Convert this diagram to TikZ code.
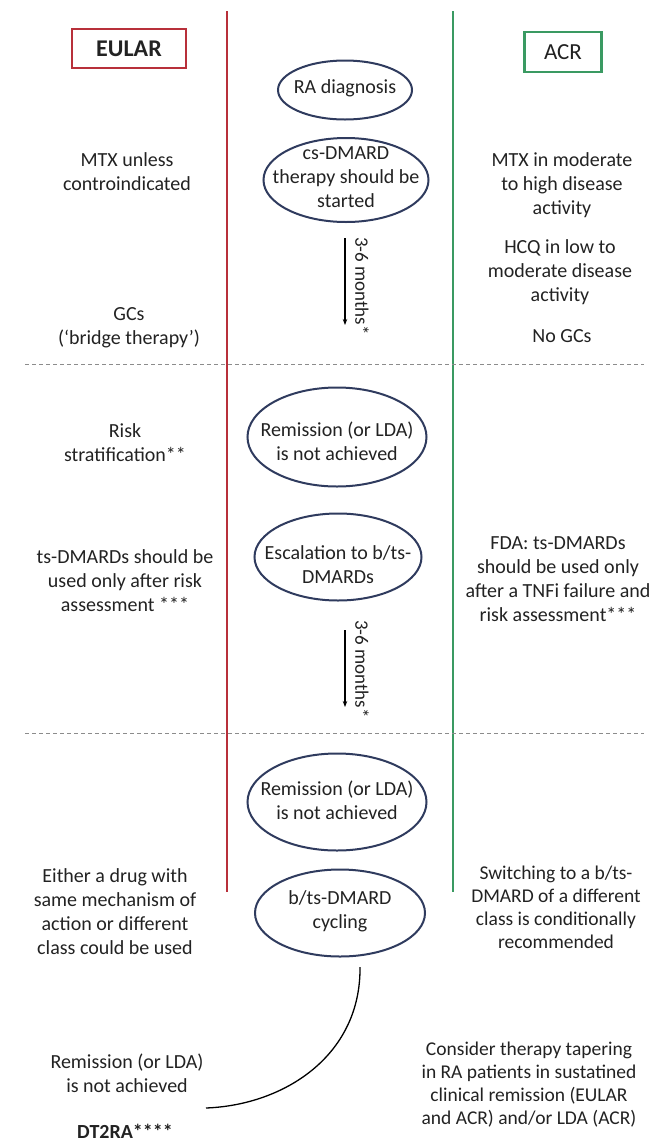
\documentclass[tikz,border=0pt]{standalone}
\usepackage{fontspec}
\setmainfont{Carlito}
\usetikzlibrary{shapes.geometric,arrows.meta}
\definecolor{eured}{HTML}{B8303A}
\definecolor{acrgreen}{HTML}{3A9A62}
\definecolor{ovalblue}{HTML}{2F3B5E}
\definecolor{txtgray}{HTML}{222222}
\definecolor{dashgray}{HTML}{8C8C8C}
\begin{document}
\begin{tikzpicture}[x=1pt,y=-1pt,
  txt/.style={align=center, font=\fontsize{20}{24}\selectfont, inner sep=0pt, text=txtgray},
  txts/.style={align=center, font=\fontsize{19.5}{23}\selectfont, inner sep=0pt, text=txtgray},
  oval/.style={ellipse, draw=ovalblue, line width=2pt, inner sep=0pt},
  period/.style={-{Stealth[length=6pt,width=4.5pt]}, line width=1.1pt, black},
  plabel/.style={rotate=-90, font=\fontsize{19}{23}\selectfont, inner sep=0pt, text=txtgray},
  divider/.style={dashgray, line width=0.9pt, dash pattern=on 4pt off 3pt},
  eubox/.style={draw=eured, line width=2.5pt, minimum width=114pt, minimum height=39pt, inner sep=0pt, font=\fontsize{24}{28}\selectfont\bfseries, text=txtgray},
  acrbox/.style={draw=acrgreen, line width=2.5pt, minimum width=77pt, minimum height=40pt, inner sep=0pt, font=\fontsize{23}{27}\selectfont, text=txtgray},
  vline/.style={line width=2pt}
]
\useasboundingbox (0,0) rectangle (650,1144);

% column dividers
\draw[vline, eured] (227,11) -- (227,892);
\draw[vline, acrgreen] (453,11) -- (453,892);
\draw[divider] (25,364) -- (644,364);
\draw[divider] (25,733) -- (644,733);

% headers
\node[eubox] (eular) at (129,48.5) {EULAR};
\node[acrbox] (acr) at (563,52) {ACR};

% central flow
\node[oval, minimum width=134pt, minimum height=59pt] (ra) at (345,90) {};
\node[txt] (ratxt) at (345,88) {RA diagnosis};

\node[oval, minimum width=165pt, minimum height=84pt] (cs) at (346,180) {};
\node[txt] (cstxt) at (346,177) {cs-DMARD\\therapy should be\\started};

\coordinate (a1s) at (345,238);
\coordinate (a1e) at (345,325);
\draw[period] (a1s) -- (a1e);
\node[plabel] (p1) at (362,286) {3-6 months*};

\node[oval, minimum width=179pt, minimum height=99pt] (rem1) at (337,437) {};
\node[txt] (rem1txt) at (337,441) {Remission (or LDA)\\is not achieved};

\node[oval, minimum width=167pt, minimum height=87pt] (esc) at (338,557) {};
\node[txt] (esctxt) at (338,565) {Escalation to b/ts-\\DMARDs};

\coordinate (a2s) at (345,630);
\coordinate (a2e) at (345,707);
\draw[period] (a2s) -- (a2e);
\node[plabel] (p2) at (362,669) {3-6 months*};

\node[oval, minimum width=179pt, minimum height=97pt] (rem2) at (337,802) {};
\node[txt] (rem2txt) at (337,800) {Remission (or LDA)\\is not achieved};

\node[oval, minimum width=170pt, minimum height=87pt] (cyc) at (340,913) {};
\node[txt] (cyctxt) at (340,911) {b/ts-DMARD\\cycling};

\coordinate (cstart) at (360,967);
\coordinate (cend) at (206,1108);
\draw[line width=1.3pt, black] (cstart) .. controls (361,1055) and (285,1105) .. (cend);

% EULAR column
\node[txt] (e1) at (127,172) {MTX unless\\controindicated};
\node[txt] (e2) at (129,328) {GCs\\(‘bridge therapy’)};
\node[txt] (e3) at (125,443) {Risk\\stratification**};
\node[txt] (e4) at (125,581) {ts-DMARDs should be\\used only after risk\\assessment ***};
\node[txt] (e5) at (115,912) {Either a drug with\\same mechanism of\\action or different\\class could be used};
\node[txt] (e6) at (127,1073) {Remission (or LDA)\\is not achieved};
\node[txt, font=\fontsize{20}{24}\selectfont\bfseries] (e7) at (125,1131) {DT2RA****};

% ACR column
\node[txt] (r1) at (562,185) {MTX in moderate\\to high disease\\activity};
\node[txt] (r2) at (560,272) {HCQ in low to\\moderate disease\\activity};
\node[txt] (r3) at (562,336) {No GCs};
\node[txt] (r4) at (558,579) {FDA: ts-DMARDs\\should be used only\\after a TNFi failure and\\risk assessment***};
\node[txts] (r5) at (556,907) {Switching to a b/ts-\\DMARD of a different\\class is conditionally\\recommended};
\node[txts] (r6) at (529,1085) {Consider therapy tapering\\in RA patients in sustatined\\clinical remission (EULAR\\and ACR) and/or LDA (ACR)};
\end{tikzpicture}
\end{document}
